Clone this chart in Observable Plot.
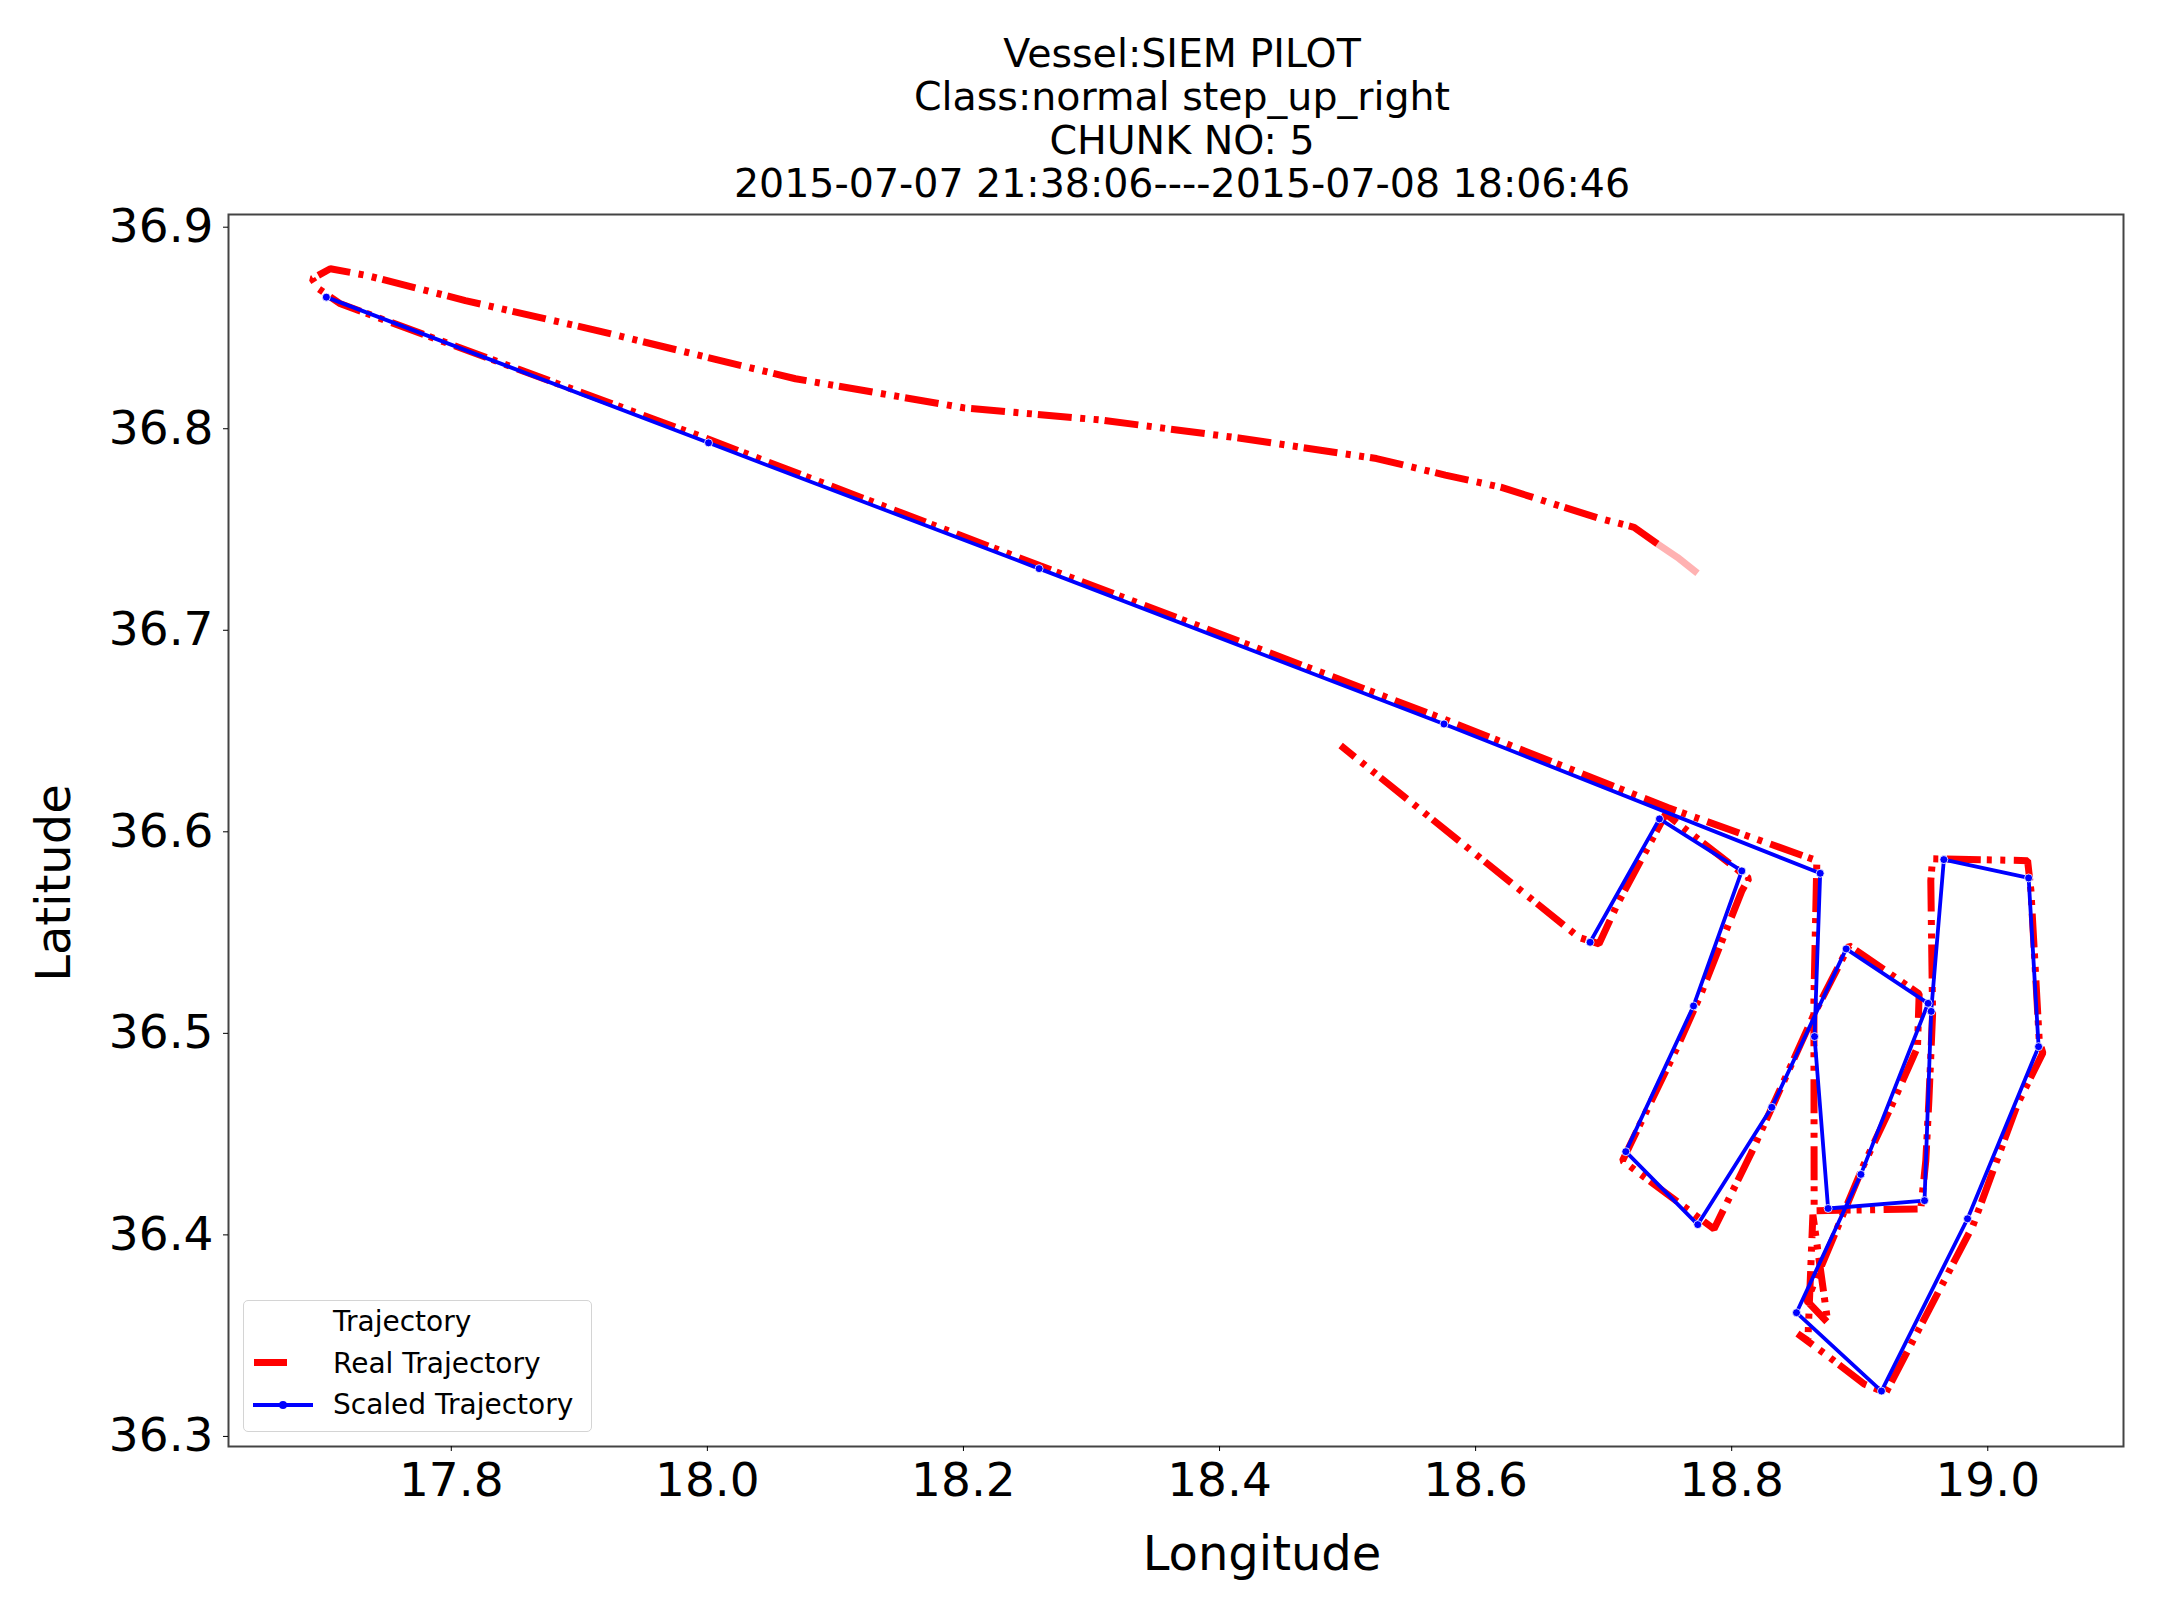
<!DOCTYPE html>
<html><head><meta charset="utf-8">
<script src="https://cdn.jsdelivr.net/npm/d3@7"></script>
<script src="https://cdn.jsdelivr.net/npm/@observablehq/plot@0.6"></script>
<style>
body{margin:0;background:#fff;font-family:"DejaVu Sans",sans-serif;}
#page{position:relative;width:2157px;height:1607px;overflow:hidden;background:#fff;}
.t{position:absolute;white-space:nowrap;line-height:1;color:#000;font-family:"DejaVu Sans",sans-serif;}
#chart{position:absolute;left:0;top:190px;}
</style></head><body><div id="page"><div id="chart"></div></div>
<script>
// ---- data ----
const titleLines = ["Vessel:SIEM PILOT", "Class:normal step_up_right", "CHUNK NO: 5", "2015-07-07 21:38:06----2015-07-08 18:06:46"];
const xLabel = "Longitude";
const yLabel = "Latitude";
const legendTitle = "Trajectory";
const seriesNames = ["Real Trajectory", "Scaled Trajectory"];
const xTicks = [17.8, 18.0, 18.2, 18.4, 18.6, 18.8, 19.0];
const yTicks = [36.3, 36.4, 36.5, 36.6, 36.7, 36.8, 36.9];

const realLon = [18.7733, 18.7576, 18.7420, 18.7238, 18.6952, 18.6196, 18.5763, 18.5226, 18.4150, 18.3077,
  18.2000, 18.0688, 17.9139, 17.8110, 17.7342, 17.7055, 17.6913, 17.6964, 17.7134, 18.0000,
  18.2600, 18.5750, 18.7500, 18.8665, 18.8642, 18.8644, 18.9477, 18.9516, 18.9540, 18.9569,
  18.9555, 18.9569, 19.0311, 19.0337, 19.0402, 19.0430, 19.0233, 18.9884, 18.9204, 18.9034,
  18.8748, 18.8514, 18.8595, 18.8634, 18.8751, 18.8587, 18.8827, 18.9034, 18.9243, 18.9451,
  18.9464, 18.8917, 18.8644, 18.8409, 18.8149, 18.7862, 18.7147, 18.7575, 18.7760, 18.8080,
  18.8134, 18.7485, 18.7108, 18.6964, 18.6808, 18.4946];
const realLat = [36.7283, 36.7362, 36.7429, 36.7511, 36.7558, 36.7710, 36.7770, 36.7852, 36.7954, 36.8043,
  36.8104, 36.8248, 36.8487, 36.8636, 36.8760, 36.8794, 36.8744, 36.8694, 36.8620, 36.7950,
  36.7320, 36.6560, 36.6120, 36.5857, 36.5162, 36.4120, 36.4129, 36.4368, 36.4666, 36.5096,
  36.5758, 36.5866, 36.5857, 36.5708, 36.4964, 36.4903, 36.4650, 36.4046, 36.3217, 36.3260,
  36.3400, 36.3510, 36.3475, 36.4100, 36.3564, 36.3673, 36.4037, 36.4352, 36.4633, 36.4931,
  36.5196, 36.5435, 36.5096, 36.4765, 36.4401, 36.4029, 36.4368, 36.4931, 36.5196, 36.5708,
  36.5768, 36.6089, 36.5642, 36.5444, 36.5476, 36.6428];

const scaledLon = [17.7024, 18.0009, 18.2591, 18.5753, 18.8691, 18.8647, 18.8753, 18.9506, 18.9558, 18.9657,
  19.0319, 19.0397, 18.9842, 18.9170, 18.8506, 18.9009, 18.9534, 18.8894, 18.8313, 18.7735,
  18.7173, 18.7702, 18.8079, 18.7436, 18.6894];
const scaledLat = [36.8653, 36.7930, 36.7306, 36.6535, 36.5794, 36.4984, 36.4131, 36.4170, 36.5109, 36.5862,
  36.5771, 36.4934, 36.4080, 36.3225, 36.3614, 36.4300, 36.5149, 36.5419, 36.4633, 36.4051,
  36.4413, 36.5136, 36.5806, 36.6064, 36.5452];

// the first real points are a dense, slow stretch that renders pale
const paleUntil = 2;

// ---- build ----
const real = realLon.map((x, i) => ({x, y: realLat[i], i}));
const scaled = scaledLon.map((x, i) => ({x, y: scaledLat[i]}));
const RED = "#ff0000", BLUE = "#0000ff";
const DASH = "34,6,5,8.5,5,8.5";

const chart = Plot.plot({
  width: 2157, height: 1417,
  marginLeft: 228, marginRight: 34, marginTop: 24, marginBottom: 161,
  x: {domain: [17.626, 19.106]},
  y: {domain: [36.295, 36.9063]},
  style: {fontFamily: "DejaVu Sans", color: "#000", background: "transparent", overflow: "visible"},
  marks: [
    Plot.line(real, {filter: d => d.i <= paleUntil, x: "x", y: "y", stroke: RED, strokeOpacity: 0.3, strokeWidth: 7, strokeLinecap: "butt"}),
    Plot.line(real, {filter: d => d.i >= paleUntil, x: "x", y: "y", stroke: RED, strokeWidth: 7, strokeDasharray: DASH, strokeLinecap: "butt", strokeLinejoin: "miter"}),
    Plot.line(scaled, {x: "x", y: "y", stroke: BLUE, strokeWidth: 3.8}),
    Plot.dot(scaled, {x: "x", y: "y", r: 4, fill: BLUE, stroke: "white", strokeWidth: 0.8}),
    Plot.frame({stroke: "#444", strokeWidth: 2}),
    Plot.axisX({ticks: xTicks, tickFormat: d3.format(".1f"), tickSize: 5, tickPadding: 11, fontSize: 47, label: null}),
    Plot.axisY({ticks: yTicks, tickFormat: d3.format(".1f"), tickSize: 5, tickPadding: 10, fontSize: 47, label: null})
  ]
});
document.getElementById("chart").appendChild(chart);

// ---- text & legend (HTML around the SVG) ----
const page = document.getElementById("page");
function addText(txt, x, baseline, fs, opts = {}) {
  const d = document.createElement("div");
  d.className = "t";
  d.textContent = txt;
  d.style.fontSize = fs + "px";
  d.style.left = x + "px";
  d.style.top = (baseline - 0.846 * fs) + "px";
  if (opts.center) d.style.transform = "translateX(-50%)";
  page.appendChild(d);
  return d;
}
titleLines.forEach((s, k) => addText(s, 1182, 67.5 + k * 43.3, 39.5, {center: true}));
addText(xLabel, 1262, 1570, 48, {center: true});
const yl = document.createElement("div");
yl.className = "t";
yl.textContent = yLabel;
yl.style.fontSize = "48px";
yl.style.left = "53px";
yl.style.top = "883px";
yl.style.transform = "translate(-50%,-50%) rotate(-90deg)";
page.appendChild(yl);

// legend box
const box = document.createElement("div");
Object.assign(box.style, {position: "absolute", left: "243px", top: "1300px", width: "349px", height: "132px",
  border: "1.3px solid #d4d4d4", borderRadius: "5px", background: "rgba(255,255,255,0.85)", boxSizing: "border-box"});
page.appendChild(box);
addText(legendTitle, 333, 1331.7, 28);
addText(seriesNames[0], 333, 1373.3, 28);
addText(seriesNames[1], 333, 1414.3, 28);
const redSample = document.createElement("div");
Object.assign(redSample.style, {position: "absolute", left: "254px", top: "1359px", width: "33px", height: "7px", background: RED});
page.appendChild(redSample);
const blueSample = document.createElement("div");
Object.assign(blueSample.style, {position: "absolute", left: "253px", top: "1403px", width: "60px", height: "3.8px", background: BLUE});
page.appendChild(blueSample);
const blueDot = document.createElement("div");
Object.assign(blueDot.style, {position: "absolute", left: "278.7px", top: "1400.9px", width: "8px", height: "8px", borderRadius: "50%", background: BLUE});
page.appendChild(blueDot);
</script></body></html>
